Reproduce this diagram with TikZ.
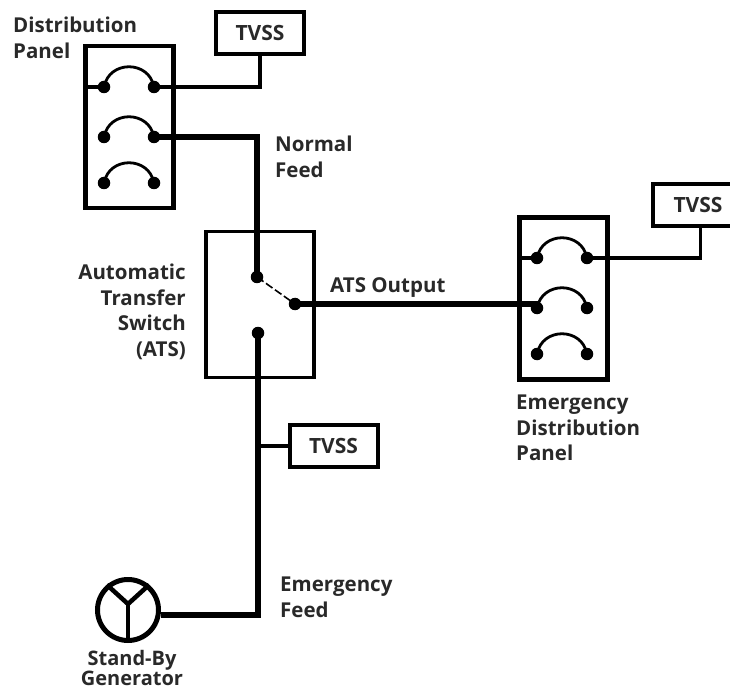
\documentclass[tikz,border=0pt]{standalone}
\usepackage{fontspec}
\setmainfont{Open Sans}
\definecolor{txt}{gray}{0.16}
\tikzset{
  box/.style={draw=black,line width=#1,fill=none,inner sep=0pt,rectangle},
  box/.default=4,
  tvss/.style={box=4,minimum width=88pt,minimum height=42pt,font=\fontsize{21}{24}\selectfont\bfseries,text=txt},
  panel/.style={box=4.5,minimum width=88pt,minimum height=162pt},
  dot/.style={circle,fill=black,draw=none,minimum size=12.5pt,inner sep=0pt},
  lab/.style={font=\fontsize{20.5}{25.5}\selectfont\bfseries,text=txt,inner sep=0pt,anchor=north west,align=left},
  labr/.style={lab,anchor=north east,align=right},
  labc/.style={lab,anchor=north,align=center,font=\fontsize{20}{20}\selectfont\bfseries},
  heavy/.style={line width=5.5pt,line join=miter},
  thin3/.style={line width=3.2pt,line join=miter},
  arcw/.style={line width=2.8pt}
}
\newcommand{\brk}[4]{% name, xl, xr, y
  \node[dot] (#1a) at (#2,#4) {};
  \node[dot] (#1b) at (#3,#4) {};
  \draw[arcw] (#1a.center) .. controls (#2+5,#4-27) and (#3-5,#4-27) .. (#1b.center);
}
\begin{document}
\begin{tikzpicture}[x=1pt,y=-1pt]
\useasboundingbox (0,0) rectangle (730,692);
\clip (0,0) rectangle (730,692);
% panels
\node[panel] (dp) at (129.5,127) {};
\node[panel] (ep) at (563.5,298.5) {};
\node[box=3.5,minimum width=108pt,minimum height=146pt] (ats) at (260,304.5) {};
% TVSS
\node[tvss] (t1) at (260,33) {TVSS};
\node[tvss,minimum width=90pt] (t2) at (698,205) {TVSS};
\node[tvss] (t3) at (333.5,446) {TVSS};
% breakers
\brk{a}{104}{154}{87}
\brk{b}{104}{154}{137}
\brk{c}{104}{154}{183}
\brk{d}{537}{587}{258}
\brk{e}{537}{587}{308}
\brk{f}{537}{587}{354}
% switch
\node[dot] (s1) at (257,277) {};
\node[dot] (s2) at (295,304) {};
\node[dot] (s3) at (258,333) {};
\draw[line width=1.6pt,dash pattern=on 8pt off 3pt] (s1.center) -- (s2.center);
% generator
\node[circle,draw=black,line width=5pt,minimum size=61pt,inner sep=0pt] (g) at (128,610) {};
\coordinate (gc) at (128,604);
\draw[line width=4.5pt] (gc) -- (g.south);
\draw[line width=4.5pt] (gc) -- (g.130);
\draw[line width=4.5pt] (gc) -- (g.50);
% connectors
\coordinate (corner) at (259,615);
\coordinate (geast) at (g.east |- corner);
\coordinate (t2drop) at (700.5,226);
\draw[thin3] (dp.west |- aa.center) -- (aa.center);
\draw[thin3] (ab.center) -| (t1.south);
\draw[heavy] (bb.center) -| (s1.center);
\draw[heavy] (s2.center) -- (ea.center |- s2.center) -- (ea.center);
\draw[thin3] (ep.west |- da.center) -- (da.center);
\draw[thin3] (db.center) -| (t2drop);
\draw[heavy] (s3.center) |- (geast);
\draw[thin3] (s3.center |- t3.west) -- (t3.west);
% labels
\node[lab] at (13,17) (l1) {Distribution\\Panel};
\node[lab] at (275,136) (l2) {Normal\\Feed};
\node[labr] at (186,264) (l3) {Automatic\\Transfer\\Switch\\(ATS)};
\node[lab] at (330,277) (l4) {ATS Output};
\node[lab] at (516,395) (l5) {Emergency\\Distribution\\Panel};
\node[lab] at (280,577) (l6) {Emergency\\Feed};
\node[labc] at (132,650) (l7) {Stand-By\\Generator};
\end{tikzpicture}
\end{document}
